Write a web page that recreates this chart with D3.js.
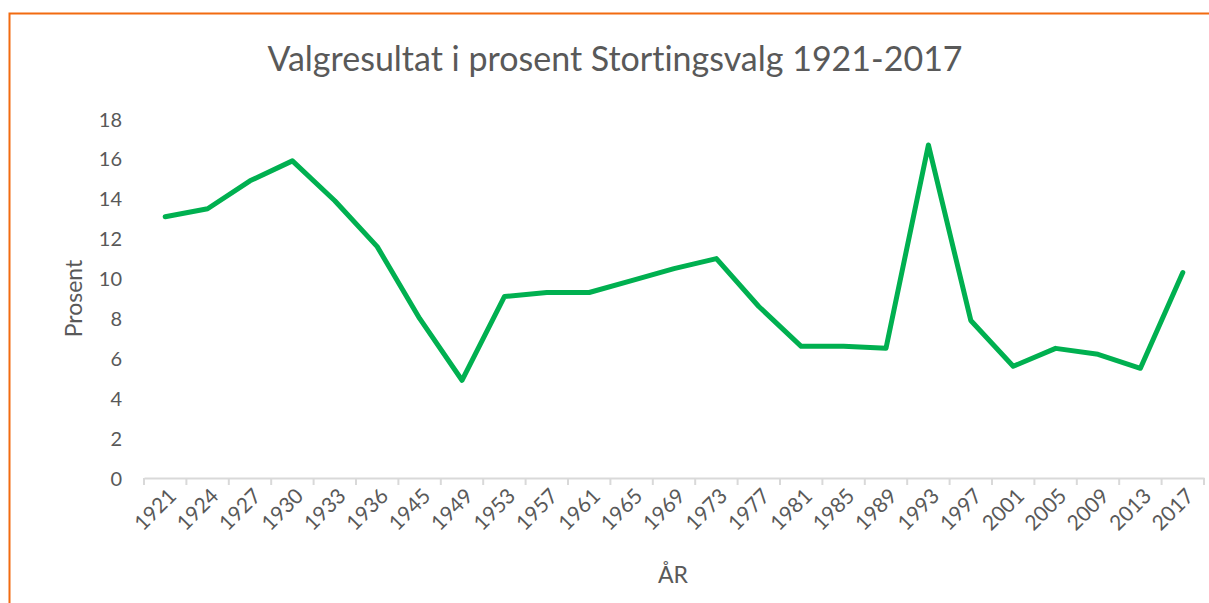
<!DOCTYPE html>
<html>
<head>
<meta charset="utf-8">
<script src="https://cdn.jsdelivr.net/npm/d3@7"></script>
<style>
  body { margin: 0; background: #fff; }
  text { font-family: Lato, "Open Sans", sans-serif; fill: #595959; font-variant-ligatures: none; }
</style>
</head>
<body>
<script>
const WIDTH = 1209;
const HEIGHT = 603;

const years = ["1921","1924","1927","1930","1933","1936","1945","1949","1953","1957","1961","1965",
               "1969","1973","1977","1981","1985","1989","1993","1997","2001","2005","2009","2013","2017"];
const percent = [13.1, 13.5, 14.9, 15.9, 13.9, 11.6, 8.0, 4.9, 9.1, 9.3, 9.3, 9.9,
                 10.5, 11.0, 8.6, 6.6, 6.6, 6.5, 16.7, 7.9, 5.6, 6.5, 6.2, 5.5, 10.3];
const yTicks = [0, 2, 4, 6, 8, 10, 12, 14, 16, 18];

const margin = {left: 144, right: 5, top: 119, bottom: 125};

let svg = d3.select("body")
            .append("svg")
            .attr("width", WIDTH)
            .attr("height", HEIGHT);

// orange frame (only top and left edges are inside the view)
svg.append("rect")
   .attr("x", 9.5).attr("y", 13.5)
   .attr("width", WIDTH + 20).attr("height", HEIGHT + 20)
   .attr("fill", "none")
   .attr("stroke", "#f26b10")
   .attr("stroke-width", 2);

let x = d3.scaleBand()
          .domain(years)
          .range([margin.left, WIDTH - margin.right]);

let y = d3.scaleLinear()
          .domain([0, 18])
          .range([HEIGHT - margin.bottom, margin.top]);

// y axis labels, no line
let yAxis = svg.append("g")
               .attr("transform", `translate(${margin.left - 22},0)`)
               .call(d3.axisLeft(y).tickValues(yTicks).tickSize(0).tickPadding(0));
yAxis.select(".domain").remove();
yAxis.selectAll("text")
     .attr("font-size", 20)
     .attr("text-anchor", "end")
     .attr("dy", "0.35em");

// x axis
let xAxis = svg.append("g")
               .attr("transform", `translate(0,${y(0)})`)
               .call(d3.axisBottom(x).tickSize(0));
xAxis.select(".domain").attr("stroke", "#d9d9d9").attr("stroke-width", 2);
xAxis.selectAll("text")
     .attr("font-size", 21)
     .attr("text-anchor", "end")
     .attr("transform", "translate(5,12) rotate(-45)")
     .attr("dy", "0.35em");

// category separators
svg.append("g")
   .selectAll("line")
   .data(years.concat(["end"]))
   .enter().append("line")
   .attr("x1", (d, i) => i < years.length ? x(d) : x.range()[1])
   .attr("x2", (d, i) => i < years.length ? x(d) : x.range()[1])
   .attr("y1", y(0))
   .attr("y2", y(0) + 7)
   .attr("stroke", "#d9d9d9")
   .attr("stroke-width", 2);

let line = d3.line()
             .x((d, i) => x(years[i]) + x.bandwidth() / 2)
             .y(d => y(d));

svg.append("path")
   .datum(percent)
   .attr("d", line)
   .attr("fill", "none")
   .attr("stroke", "#00b050")
   .attr("stroke-width", 5)
   .attr("stroke-linejoin", "round")
   .attr("stroke-linecap", "round");

svg.append("text")
   .attr("x", 615).attr("y", 71)
   .attr("text-anchor", "middle")
   .attr("font-size", 34)
   .text("Valgresultat i prosent Stortingsvalg 1921-2017");

svg.append("text")
   .attr("transform", `translate(82,${y(9)}) rotate(-90)`)
   .attr("text-anchor", "middle")
   .attr("font-size", 23)
   .text("Prosent");

svg.append("text")
   .attr("x", 673).attr("y", 583)
   .attr("text-anchor", "middle")
   .attr("font-size", 23)
   .text("ÅR");
</script>
</body>
</html>
